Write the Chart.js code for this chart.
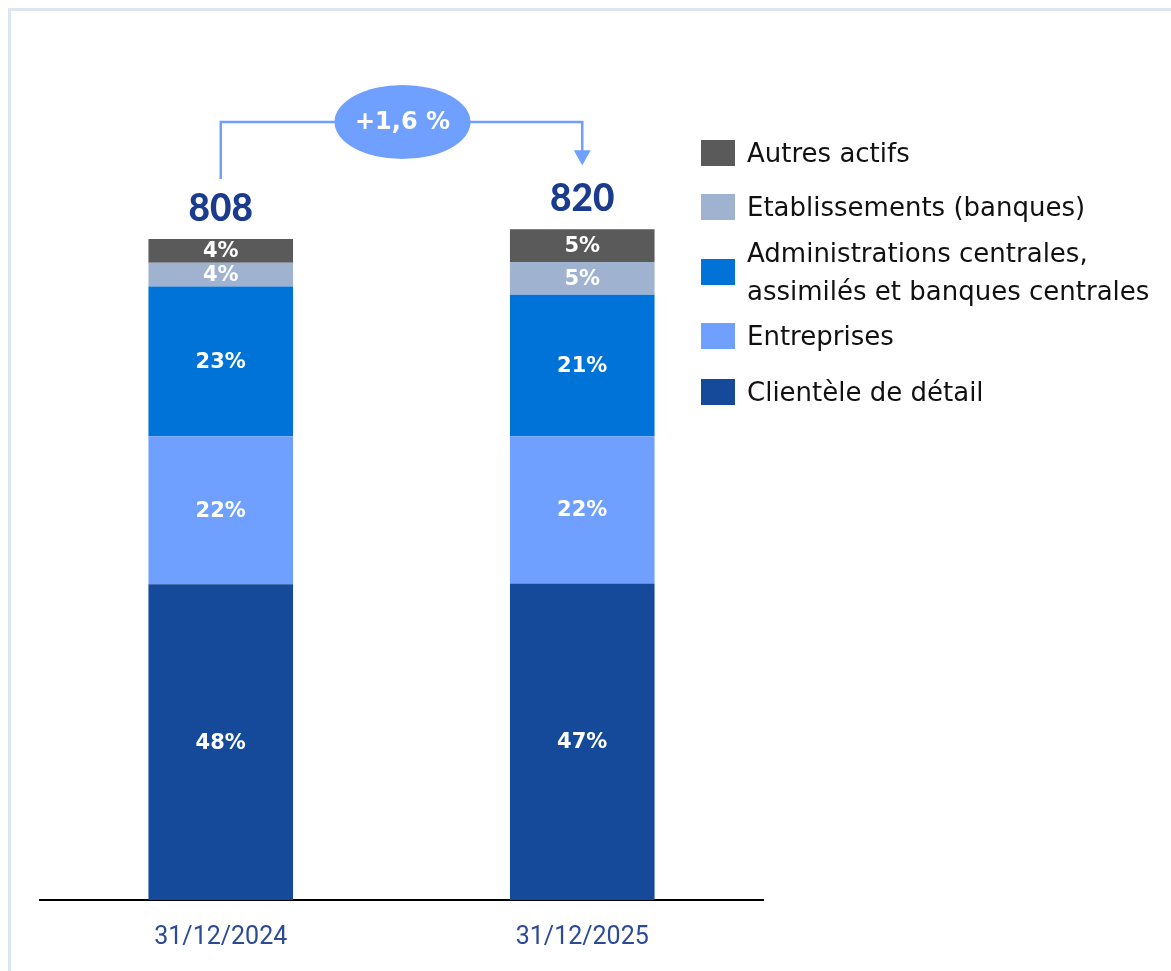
<!DOCTYPE html>
<html>
<head>
<meta charset="utf-8">
<script src="https://cdn.jsdelivr.net/npm/chart.js@4.4.1/dist/chart.umd.min.js"></script>
<style>
  html, body { margin: 0; padding: 0; background: #fff; overflow: hidden; }
  #wrap { position: relative; width: 1171px; height: 971px; }
  #frame { position: absolute; left: 8px; top: 8px; width: 1300px; height: 1100px;
           border: 3px solid #dde5f2; box-sizing: border-box; }
  canvas { position: absolute; left: 0; top: 0; }
  #legend { position: absolute; left: 701px; top: 0; font-family: "DejaVu Sans", sans-serif;
            font-size: 26px; color: #111; }
  .item { position: absolute; left: 0; white-space: nowrap; }
  .box { position: absolute; left: 0; width: 34px; height: 26px; }
  .txt { position: absolute; left: 46px; line-height: 38px; }
</style>
</head>
<body>
<div id="wrap">
  <div id="frame"></div>
  <canvas id="myChart" width="1171" height="971"></canvas>
  <div id="legend"></div>
</div>
<script>
// categories
const dates = ['31/12/2024', '31/12/2025'];

// encours par segment (Md€)
const clientele = [386, 387];
const entreprises = [181, 180];
const administrations = [183, 173];
const etablissements = [29, 40];
const autres = [29, 40];

const variation = '+1,6 %';

const series = [
  { label: 'Clientèle de détail', data: clientele, color: '#154a9a' },
  { label: 'Entreprises', data: entreprises, color: '#70a0ff' },
  { label: 'Administrations centrales,\nassimilés et banques centrales', data: administrations, color: '#0073d9' },
  { label: 'Etablissements (banques)', data: etablissements, color: '#9fb2d0' },
  { label: 'Autres actifs', data: autres, color: '#5a5a5a' }
];

const totals = dates.map((d, i) => series.reduce((s, x) => s + x.data[i], 0));

// legend (html, top item = last series)
const legendY = [153, 207, 272, 336, 392];
const leg = document.getElementById('legend');
series.slice().reverse().forEach((s, k) => {
  const lines = s.label.split('\n');
  const it = document.createElement('div');
  it.className = 'item';
  it.style.top = legendY[k] + 'px';
  const box = document.createElement('div');
  box.className = 'box';
  box.style.background = s.color;
  box.style.top = '-13px';
  const t = document.createElement('div');
  t.className = 'txt';
  t.style.top = (-19 * lines.length) + 'px';
  t.innerHTML = lines.join('<br>');
  it.appendChild(box);
  it.appendChild(t);
  leg.appendChild(it);
});

const overlay = {
  id: 'overlay',
  afterDatasetsDraw(chart) {
    const ctx = chart.ctx;
    ctx.save();
    // percentages inside segments
    ctx.fillStyle = '#fff';
    ctx.font = 'bold 21px "DejaVu Sans", sans-serif';
    ctx.textAlign = 'center';
    ctx.textBaseline = 'middle';
    chart.data.datasets.forEach((ds, di) => {
      chart.getDatasetMeta(di).data.forEach((bar, i) => {
        const pct = Math.round(ds.data[i] / totals[i] * 100) + '%';
        ctx.fillText(pct, bar.x, (bar.y + bar.base) / 2 + 1);
      });
    });
    // totals above bars
    const top = chart.getDatasetMeta(chart.data.datasets.length - 1).data;
    ctx.fillStyle = '#1b3c8e';
    ctx.font = '900 37px Lato, sans-serif';
    ctx.textBaseline = 'alphabetic';
    top.forEach((bar, i) => ctx.fillText(String(totals[i]), bar.x, bar.y - 18));

    // evolution arrow
    const x1 = top[0].x, x2 = top[1].x;
    const yl = 122;
    const cx = (x1 + x2) / 2 + 1, rx = 68, ry = 37;
    ctx.strokeStyle = '#70a0ff';
    ctx.lineWidth = 2.5;
    ctx.beginPath();
    ctx.moveTo(x1, top[0].y - 60);
    ctx.lineTo(x1, yl);
    ctx.lineTo(x2, yl);
    ctx.lineTo(x2, top[1].y - 78);
    ctx.stroke();
    ctx.fillStyle = '#70a0ff';
    ctx.beginPath();
    ctx.moveTo(x2 - 8.5, top[1].y - 79);
    ctx.lineTo(x2 + 8.5, top[1].y - 79);
    ctx.lineTo(x2, top[1].y - 64);
    ctx.closePath();
    ctx.fill();
    ctx.beginPath();
    ctx.ellipse(cx, yl, rx, ry, 0, 0, Math.PI * 2);
    ctx.fill();
    ctx.fillStyle = '#fff';
    ctx.font = 'bold 24px "DejaVu Sans", sans-serif';
    ctx.textBaseline = 'middle';
    ctx.fillText(variation, cx, yl + 1);
    ctx.restore();
  }
};

new Chart(document.getElementById('myChart'), {
  type: 'bar',
  data: {
    labels: dates,
    datasets: series.map(s => ({
      label: s.label,
      data: s.data,
      backgroundColor: s.color,
      borderWidth: 0,
      barPercentage: 0.4,
      categoryPercentage: 1
    }))
  },
  options: {
    responsive: false,
    devicePixelRatio: 1,
    animation: false,
    layout: { padding: { left: 40, right: 408, top: 82, bottom: 0 } },
    plugins: { legend: { display: false }, tooltip: { enabled: false } },
    scales: {
      x: {
        stacked: true,
        grid: { display: false, drawTicks: false },
        border: { display: true, color: '#000', width: 2 },
        ticks: { color: '#2c4a98', padding: 23,
                 font: { family: '"Liberation Sans Narrow", Roboto, sans-serif', size: 25 } },
        afterFit(scale) { scale.height = 71; }
      },
      y: { stacked: true, display: false, min: 0, max: 1000 }
    }
  },
  plugins: [overlay]
});
</script>
</body>
</html>
